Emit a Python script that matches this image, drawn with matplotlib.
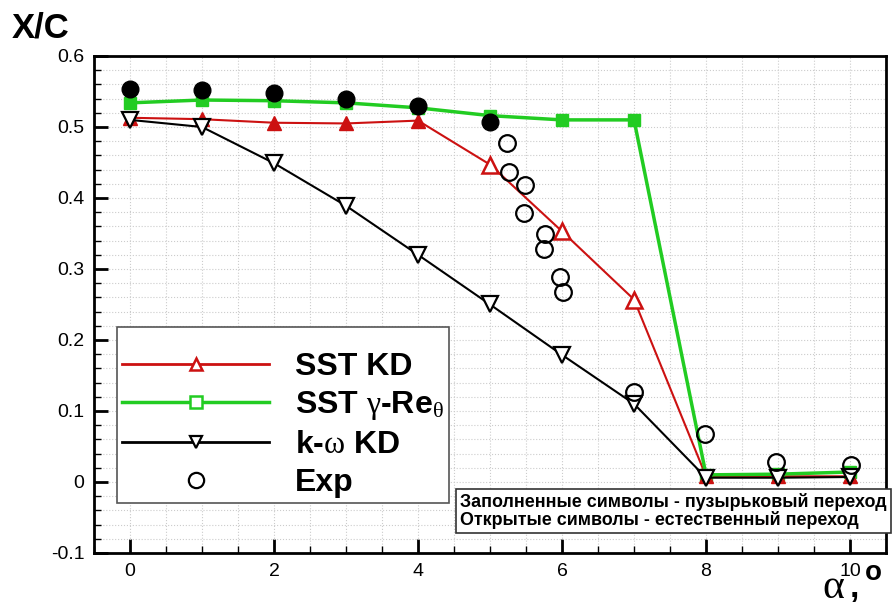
import matplotlib
matplotlib.use("Agg")
import matplotlib.pyplot as plt
from matplotlib.lines import Line2D
from matplotlib.ticker import MultipleLocator, FuncFormatter

plt.rcParams['font.family'] = ['Liberation Sans', 'DejaVu Sans']
plt.rcParams['mathtext.fontset'] = 'custom'
plt.rcParams['mathtext.rm'] = 'Liberation Serif'
plt.rcParams['mathtext.it'] = 'Liberation Serif'

# data
alpha = [0, 1, 2, 3, 4, 5, 6, 7, 8, 9, 10]
sst_kd = [0.513, 0.511, 0.506, 0.505, 0.509, 0.447, 0.353, 0.257, 0.008, 0.008, 0.008]
sst_gamma = [0.534, 0.538, 0.537, 0.534, 0.527, 0.516, 0.510, 0.510, 0.010, 0.011, 0.014]
kw_kd = [0.510, 0.500, 0.449, 0.389, 0.320, 0.250, 0.179, 0.110, 0.006, 0.006, 0.007]

exp_fill_a = [0, 1, 2, 3, 4, 5]
exp_fill_y = [0.554, 0.552, 0.548, 0.540, 0.529, 0.507]
exp_open_a = [5.24, 5.26, 5.49, 5.47, 5.76, 5.75, 5.97, 6.01, 7.0, 7.99, 8.97, 10.01]
exp_open_y = [0.477, 0.437, 0.418, 0.379, 0.349, 0.328, 0.289, 0.268, 0.127, 0.068, 0.028, 0.024]

red = '#cc1111'
green = '#22cc22'

fig = plt.figure(figsize=(8.93, 6.08), dpi=100)
ax = fig.add_axes([0.1053, 0.0905, 0.8869, 0.8174])

# grid
ax.grid(which='both', ls=':', color='#cccccc', lw=0.8, zorder=0)

# SST KD: filled markers for bubble transition (0-4, 8-10), open for 5-7
ax.plot(alpha, sst_kd, color=red, lw=1.5, zorder=3)
ax.plot(alpha[:5] + alpha[8:], sst_kd[:5] + sst_kd[8:], ls='none', marker='^',
        ms=10, color=red, zorder=4)
ax.plot(alpha[5:8], sst_kd[5:8], ls='none', marker='^', ms=11, mfc='white',
        mec=red, mew=1.8, zorder=4)

# SST gamma-Re_theta: filled squares
ax.plot(alpha, sst_gamma, color=green, lw=2.5, marker='s', ms=9, zorder=3)

# k-omega KD: open down triangles
ax.plot(alpha, kw_kd, color='black', lw=1.5, marker='v', ms=11, mfc='white',
        mec='black', mew=1.6, zorder=5)

# experiment
ax.plot(exp_fill_a, exp_fill_y, ls='none', marker='o', ms=12, color='black', zorder=6)
ax.plot(exp_open_a, exp_open_y, ls='none', marker='o', ms=12, mfc='none',
        mec='black', mew=1.6, zorder=6)

ax.set_xlim(-0.5, 10.5)
ax.set_ylim(-0.1, 0.6)
ax.xaxis.set_major_locator(MultipleLocator(2))
ax.xaxis.set_minor_locator(MultipleLocator(0.5))
ax.yaxis.set_major_locator(MultipleLocator(0.1))
ax.yaxis.set_minor_locator(MultipleLocator(0.02))
ax.yaxis.set_major_formatter(FuncFormatter(lambda v, p: '0' if abs(v) < 1e-9 else f'{v:.1f}'))
ax.xaxis.set_major_formatter(FuncFormatter(lambda v, p: f'{v:.0f}'))
ax.tick_params(which='major', direction='in', length=10, width=2, labelsize=14, pad=7)
ax.tick_params(which='minor', direction='in', length=5, width=1)
for s in ax.spines.values():
    s.set_linewidth(2)

handles = [
    Line2D([], [], color=red, lw=2, marker='^', ms=9, mfc='white', mec=red, mew=1.8),
    Line2D([], [], color=green, lw=2.5, marker='s', ms=8, mfc='white', mec=green, mew=1.8),
    Line2D([], [], color='black', lw=2, marker='v', ms=9, mfc='white', mec='black', mew=1.6),
    Line2D([], [], ls='none', marker='o', ms=11, mfc='white', mec='black', mew=1.6),
]
labels = ['SST KD', r'SST $\gamma$-Re$_{\theta}$', r'k-$\omega$ KD', 'Exp']
leg = fig.legend(handles, labels, loc='upper left', bbox_to_anchor=(117 / 893, 1 - 327 / 608),
                 bbox_transform=fig.transFigure, borderaxespad=0, frameon=True, fancybox=False,
                 edgecolor='#555555', framealpha=1, handlelength=4.6, handletextpad=0.8,
                 labelspacing=0.24, borderpad=0.16, title=' ', title_fontsize=9,
                 prop={'weight': 'bold', 'size': 23})
leg.get_frame().set_linewidth(1.2)

fig.text(460 / 893, 1 - 511 / 608,
         'Заполненные символы - пузырьковый переход\nОткрытые символы - естественный переход',
         fontsize=12.9, fontweight='bold', va='center', ha='left', linespacing=1.0,
         bbox=dict(boxstyle='square,pad=0.25', fc='white', ec='#333333', lw=1.2))

fig.text(12 / 893, 1 - 12 / 608, 'X/C', fontsize=25, fontweight='bold', va='top', ha='left')
fig.text(822 / 893, 1 - 598 / 608, 'α', family='Liberation Serif', fontsize=30, va='baseline', ha='left')
fig.text(850 / 893, 1 - 597 / 608, ',', fontsize=24, fontweight='bold', va='baseline', ha='left')
fig.text(865 / 893, 1 - 580 / 608, 'o', fontsize=20, fontweight='bold', va='baseline', ha='left')

fig.savefig('out.png', dpi=100)
